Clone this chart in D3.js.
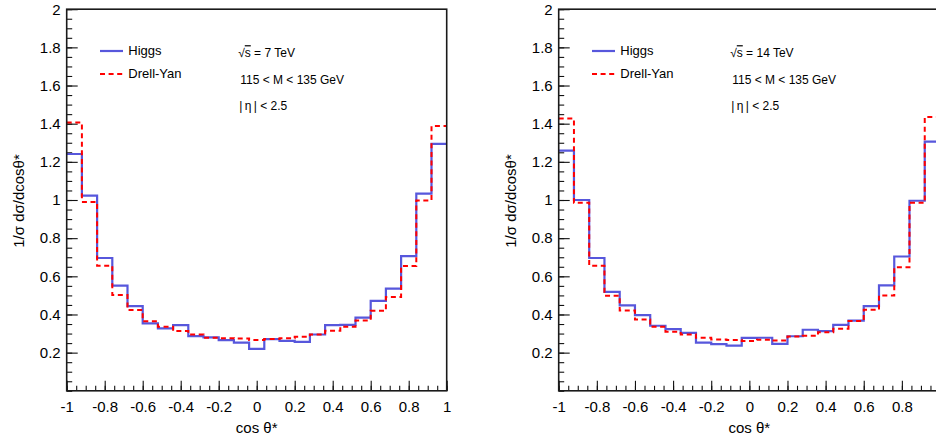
<!DOCTYPE html>
<html>
<head>
<meta charset="utf-8">
<script src="https://cdn.jsdelivr.net/npm/d3@7"></script>
<style>
  body { margin: 0; background: #fff; }
  svg { display: block; }
  text { font-family: "Liberation Sans", Arial, Helvetica, sans-serif; fill: #000; }
</style>
</head>
<body>
<svg id="chart" width="936" height="441"></svg>
<script>
// Bin edges of the cos(theta*) histograms (25 bins)
const binEdges = [-1, -0.92, -0.84, -0.76, -0.68, -0.6, -0.52, -0.44, -0.36, -0.28, -0.2, -0.12, -0.04,
                  0.04, 0.12, 0.2, 0.28, 0.36, 0.44, 0.52, 0.6, 0.68, 0.76, 0.84, 0.92, 1];

// Normalised distributions, sqrt(s) = 7 TeV
const higgs7 = [1.241, 1.023, 0.696, 0.551, 0.444, 0.353, 0.327, 0.344, 0.287, 0.280, 0.266, 0.253, 0.220,
                0.271, 0.262, 0.256, 0.295, 0.344, 0.346, 0.383, 0.471, 0.536, 0.706, 1.033, 1.294];
const drellYan7 = [1.406, 0.990, 0.656, 0.502, 0.423, 0.365, 0.336, 0.313, 0.295, 0.278, 0.276, 0.274, 0.266,
                   0.271, 0.275, 0.283, 0.295, 0.315, 0.336, 0.369, 0.419, 0.492, 0.654, 0.998, 1.388];

// Normalised distributions, sqrt(s) = 14 TeV
const higgs14 = [1.259, 1.000, 0.696, 0.519, 0.448, 0.397, 0.341, 0.323, 0.304, 0.252, 0.245, 0.237, 0.277,
                 0.278, 0.246, 0.286, 0.320, 0.313, 0.346, 0.368, 0.444, 0.553, 0.704, 0.996, 1.306];
const drellYan14 = [1.427, 0.986, 0.656, 0.498, 0.421, 0.374, 0.336, 0.309, 0.295, 0.278, 0.269, 0.266, 0.261,
                    0.268, 0.263, 0.284, 0.288, 0.307, 0.325, 0.366, 0.425, 0.499, 0.648, 0.985, 1.435];

const xMajorTicks = [-1, -0.8, -0.6, -0.4, -0.2, 0, 0.2, 0.4, 0.6, 0.8, 1];
const yMajorTicks = [0.2, 0.4, 0.6, 0.8, 1, 1.2, 1.4, 1.6, 1.8, 2];
const xTickLabels = ["-1", "-0.8", "-0.6", "-0.4", "-0.2", "0", "0.2", "0.4", "0.6", "0.8", "1"];
const yTickLabels = ["0.2", "0.4", "0.6", "0.8", "1", "1.2", "1.4", "1.6", "1.8", "2"];
const energies = ["7", "14"];

const seriesNames = ["Higgs", "Drell-Yan"];

const width = 936;
const svg = d3.select("#chart");
const frameTop = 9.2, frameBottom = 390.8;

const panels = [
  { left: 66.7, right: 446.7, energy: energies[0], higgs: higgs7, dy: drellYan7 },
  { left: 558.7, right: 940, energy: energies[1], higgs: higgs14, dy: drellYan14 }
];

const styles = {
  higgs: { stroke: "#5757dc", width: 2.2, dash: null },
  dy: { stroke: "#ff0000", width: 2, dash: "5,3.6" }
};

panels.forEach(p => {
  const g = svg.append("g");
  const x = d3.scaleLinear().domain([-1, 1]).range([p.left, p.right]);
  const y = d3.scaleLinear().domain([0, 2]).range([frameBottom, frameTop]);

  // minor ticks every 0.05
  const minorX = d3.range(-1, 1.0001, 0.05).map(v => +v.toFixed(2));
  const minorY = d3.range(0, 2.0001, 0.05).map(v => +v.toFixed(2));

  const xMinor = g.append("g").attr("transform", `translate(0,${frameBottom})`)
    .call(d3.axisBottom(x).tickValues(minorX).tickSize(-5).tickFormat(""));
  const xMajor = g.append("g").attr("transform", `translate(0,${frameBottom})`)
    .call(d3.axisBottom(x).tickValues(xMajorTicks).tickSize(-10).tickPadding(11)
      .tickFormat((d, i) => xTickLabels[i]));
  const yMinor = g.append("g").attr("transform", `translate(${p.left},0)`)
    .call(d3.axisLeft(y).tickValues(minorY).tickSize(-5.5).tickFormat(""));
  const yMajor = g.append("g").attr("transform", `translate(${p.left},0)`)
    .call(d3.axisLeft(y).tickValues(yMajorTicks).tickSize(-11).tickPadding(6)
      .tickFormat((d, i) => yTickLabels[i]));

  [xMinor, xMajor, yMinor, yMajor].forEach(a => {
    a.select(".domain").remove();
    a.selectAll(".tick line").attr("stroke", "#111").attr("stroke-width", 1.1);
    a.selectAll("text").attr("font-size", 15).attr("fill", "#000")
      .attr("font-family", "\"Liberation Sans\", Arial, Helvetica, sans-serif");
  });

  // labels whose tick sits past the page edge are not shown
  xMajor.selectAll(".tick").filter(d => x(d) > width - 4).select("text").remove();

  // histogram outlines
  const step = d3.line()
    .x(d => x(d[0]))
    .y(d => y(d[1]))
    .curve(d3.curveStepAfter);
  const toPoints = vals => vals.map((v, i) => [binEdges[i], v]).concat([[binEdges[binEdges.length - 1], vals[vals.length - 1]]]);

  g.append("path").datum(toPoints(p.higgs))
    .attr("d", step).attr("fill", "none")
    .attr("stroke", styles.higgs.stroke).attr("stroke-width", styles.higgs.width);
  g.append("path").datum(toPoints(p.dy))
    .attr("d", step).attr("fill", "none")
    .attr("stroke", styles.dy.stroke).attr("stroke-width", styles.dy.width)
    .attr("stroke-dasharray", styles.dy.dash);

  // frame
  g.append("rect")
    .attr("x", p.left).attr("y", frameTop)
    .attr("width", p.right - p.left).attr("height", frameBottom - frameTop)
    .attr("fill", "none").attr("stroke", "#1a1a1a").attr("stroke-width", 1.6);

  // axis titles
  g.append("text")
    .attr("x", x(0)).attr("y", 428).attr("dy", "0.35em")
    .attr("text-anchor", "middle").attr("font-size", 15)
    .text("cos θ*");
  g.append("text")
    .attr("transform", `translate(${p.left - 48},${201}) rotate(-90)`)
    .attr("dy", "0.35em")
    .attr("text-anchor", "middle").attr("font-size", 15)
    .text("1/σ dσ/dcosθ*");

  // legend
  const lx = p.left + 33.3;
  const legendRows = [
    { name: seriesNames[0], s: styles.higgs, yPos: 51 },
    { name: seriesNames[1], s: styles.dy, yPos: 74 }
  ];
  legendRows.forEach(r => {
    g.append("line")
      .attr("x1", lx).attr("x2", lx + 23).attr("y1", r.yPos).attr("y2", r.yPos)
      .attr("stroke", r.s.stroke).attr("stroke-width", r.s.width)
      .attr("stroke-dasharray", r.s.dash);
    g.append("text")
      .attr("x", p.left + 61.6).attr("y", r.yPos - 1).attr("dy", "0.35em")
      .attr("font-size", 13).text(r.name);
  });

  // annotations
  const ax = p.left + 171.5;
  const t1 = g.append("text").attr("x", ax).attr("y", 53).attr("dy", "0.35em").attr("font-size", 12);
  t1.append("tspan").text("√");
  t1.append("tspan").style("text-decoration", "overline").text("s");
  t1.append("tspan").text(` = ${p.energy} TeV`);
  g.append("text").attr("x", ax + 2).attr("y", 80).attr("dy", "0.35em").attr("font-size", 12)
    .text("115 < M < 135 GeV");
  g.append("text").attr("x", ax + 1).attr("y", 106).attr("dy", "0.35em").attr("font-size", 12)
    .text("|\u2009η\u2009| < 2.5");
});
</script>
</body>
</html>
